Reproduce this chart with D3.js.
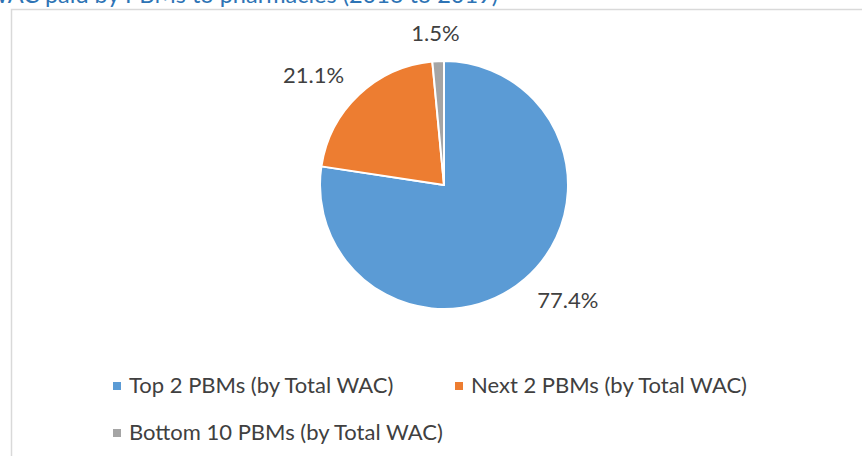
<!DOCTYPE html>
<html>
  <head>
    <meta charset="utf-8">
    <title>Share of WAC paid by PBMs to pharmacies</title>
    <meta name="viewport" content="width=device-width, initial-scale=1.0">
    <script src="https://d3js.org/d3.v7.min.js"></script>
    <style>
      body { margin: 0; background: #fff; overflow: hidden; }
      text { font-family: Lato, "Open Sans", sans-serif; }
    </style>
  </head>
  <body>
    <svg id="chart" width="862" height="456"></svg>
    <script>
      // data
      var title = "WAC paid by PBMs to pharmacies (2016 to 2019)";
      var categories = ["Top 2 PBMs (by Total WAC)", "Next 2 PBMs (by Total WAC)", "Bottom 10 PBMs (by Total WAC)"];
      var shares = [77.4, 21.1, 1.5];
      var colours = ["#5b9bd5", "#ed7d31", "#a5a5a5"];

      // layout
      var width = 862, height = 456;
      var fontSize = 22;
      var center = { x: 444, y: 185 };
      var radius = 124;
      var labelGap = 20;

      svg = d3.select("#chart");

      // title (cut off at top of the frame, as in the source)
      svg.append("text")
        .attr("x", 498)
        .attr("y", 2.5)
        .attr("text-anchor", "end")
        .attr("fill", "#2e74b5")
        .style("font-size", "23.5px")
        .text(title);

      // chart area border
      svg.append("path")
        .attr("d", "M11.5," + height + "V9.5H" + width)
        .attr("fill", "none")
        .attr("stroke", "#d9d9d9")
        .attr("stroke-width", 1.5);

      // pie
      pie = d3.pie()
        .sort(null)
        .value(function(d) { return d; });
      arc = d3.arc()
        .innerRadius(0)
        .outerRadius(radius);
      arcs = pie(shares);

      pieGroup = svg.append("g")
        .attr("transform", "translate(" + center.x + "," + center.y + ")");
      pieGroup.selectAll(".slice")
        .data(arcs)
        .enter()
        .append("path")
        .attr("class", "slice")
        .attr("d", arc)
        .attr("fill", function(d, i) { return colours[i]; })
        .attr("stroke", "#fff")
        .attr("stroke-width", 2)
        .attr("stroke-linejoin", "round");

      // data labels, outside end
      var capHeight = fontSize * 0.72;
      pieGroup.selectAll(".label")
        .data(arcs)
        .enter()
        .append("text")
        .attr("class", "label")
        .attr("text-anchor", "middle")
        .attr("fill", "#404040")
        .style("font-size", fontSize + "px")
        .text(function(d) { return d3.format(".1f")(d.value) + "%"; })
        .each(function(d) {
          var a = (d.startAngle + d.endAngle) / 2;
          var w = this.getComputedTextLength();
          var cx = Math.sin(a) * (radius + labelGap + w * 0.75);
          var cy = -Math.cos(a) * (radius + labelGap + capHeight / 2);
          d3.select(this)
            .attr("x", cx)
            .attr("y", cy + capHeight / 2);
        });

      // legend
      var legendPos = [[113, 393], [455, 393], [113, 440]];
      legend = svg.selectAll(".legend")
        .data(categories)
        .enter()
        .append("g")
        .attr("class", "legend")
        .attr("transform", function(d, i) {
          return "translate(" + legendPos[i][0] + "," + legendPos[i][1] + ")";
        });
      legend.append("rect")
        .attr("x", 0)
        .attr("y", -11)
        .attr("width", 8)
        .attr("height", 8)
        .attr("fill", function(d, i) { return colours[i]; });
      legend.append("text")
        .attr("x", 16)
        .attr("y", 0)
        .attr("fill", "#404040")
        .style("font-size", fontSize + "px")
        .text(function(d) { return d; });
    </script>
  </body>
</html>
